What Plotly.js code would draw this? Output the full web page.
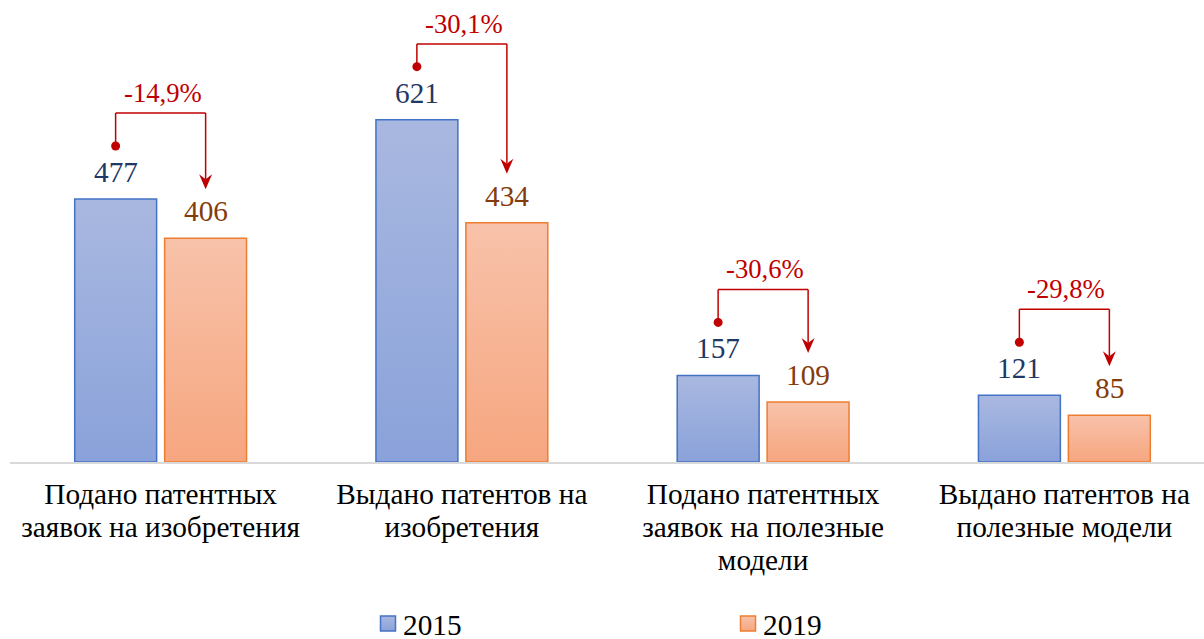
<!DOCTYPE html>
<html>
<head>
<meta charset="utf-8">
<script src="https://cdn.plot.ly/plotly-3.0.1.min.js"></script>
<style>
  html, body { margin: 0; padding: 0; background: #fff; }
  #chart { width: 1204px; height: 639px; }
</style>
</head>
<body>
<div id="chart"></div>
<script>
// ---- data ----
var categories = [
  'Подано патентных<br>заявок на изобретения',
  'Выдано патентов на<br>изобретения',
  'Подано патентных<br>заявок на полезные<br>модели',
  'Выдано патентов на<br>полезные модели'
];
var seriesNames = ['2015', '2019'];
var values2015 = [477, 621, 157, 121];
var values2019 = [406, 434, 109, 85];
var changeLabels = ['-14,9%', '-30,1%', '-30,6%', '-29,8%'];

// ---- styling ----
var FONT = 'Liberation Serif';
var RED = '#C00000';
var W = 1204, H = 639;
var M = {l: 10, r: 0, t: 0, b: 177};
var Y_MAX = 838;
var plotH = H - M.t - M.b;
var k = plotH / Y_MAX;           // px per data unit (from the y scale)
var BAR_OFF = 45;                // px from group centre to bar centre

var traces = [
  {
    type: 'bar', name: seriesNames[0], x: categories, y: values2015,
    marker: {color: '#97ABDD', line: {color: '#4472C4', width: 1.5}},
    hoverinfo: 'none'
  },
  {
    type: 'bar', name: seriesNames[1], x: categories, y: values2019,
    marker: {color: '#F7B494', line: {color: '#ED7D31', width: 1.5}},
    hoverinfo: 'none'
  }
];

var annotations = [];
var shapes = [];
categories.forEach(function (c, i) {
  var v1 = values2015[i], v2 = values2019[i];
  annotations.push({
    x: c, y: v1, xref: 'x', yref: 'y', text: String(v1), showarrow: false,
    xshift: -BAR_OFF, yanchor: 'bottom', yshift: 9,
    font: {family: FONT, size: 29.3, color: '#1F3864'}
  });
  annotations.push({
    x: c, y: v2, xref: 'x', yref: 'y', text: String(v2), showarrow: false,
    xshift: BAR_OFF, yanchor: 'bottom', yshift: 9,
    font: {family: FONT, size: 29.3, color: '#843C0C'}
  });

  var dotOff = 53;
  var topPx = plotH - v1 * k;
  var bracket = Math.min(86, topPx - 44);
  var tipOff = 49;                       // above the 2019 bar
  var tipRel = (v2 - v1) * k + tipOff;   // relative to 2015 bar top

  var common = {xref: 'x', yref: 'y', xsizemode: 'pixel', ysizemode: 'pixel',
                xanchor: c, yanchor: v1, line: {color: RED, width: 1.5}};
  shapes.push(Object.assign({}, common, {type: 'line', x0: -BAR_OFF, x1: -BAR_OFF, y0: dotOff, y1: bracket}));
  shapes.push(Object.assign({}, common, {type: 'line', x0: -BAR_OFF, x1: BAR_OFF, y0: bracket, y1: bracket}));
  shapes.push(Object.assign({}, common, {type: 'line', x0: BAR_OFF, x1: BAR_OFF, y0: bracket, y1: tipRel + 10}));
  shapes.push(Object.assign({}, common, {
    type: 'circle', x0: -BAR_OFF - 4.5, x1: -BAR_OFF + 4.5, y0: dotOff - 4.5, y1: dotOff + 4.5,
    fillcolor: RED, line: {width: 0}
  }));
  shapes.push({
    type: 'path', xref: 'x', yref: 'y', xsizemode: 'pixel', ysizemode: 'pixel',
    xanchor: c, yanchor: v2,
    path: 'M' + BAR_OFF + ',' + tipOff + ' L' + (BAR_OFF - 6.5) + ',' + (tipOff + 15) +
          ' L' + BAR_OFF + ',' + (tipOff + 10) + ' L' + (BAR_OFF + 6.5) + ',' + (tipOff + 15) + ' Z',
    fillcolor: RED, line: {width: 0}
  });
  annotations.push({
    x: c, y: v1, xref: 'x', yref: 'y', text: changeLabels[i], showarrow: false,
    xshift: 2, yanchor: 'bottom', yshift: bracket + 3,
    font: {family: FONT, size: 26.7, color: RED}
  });
});

var layout = {
  width: W, height: H, autosize: false,
  margin: M,
  paper_bgcolor: '#fff', plot_bgcolor: '#fff',
  font: {family: FONT},
  barmode: 'group', bargap: 0.403, bargroupgap: 0.089,
  showlegend: true,
  legend: {
    orientation: 'h', xref: 'container', yref: 'container',
    x: 368 / W, xanchor: 'left', y: 1 - 624 / H, yanchor: 'middle',
    itemwidth: 30,
    entrywidth: 315, entrywidthmode: 'pixels',
    font: {family: FONT, size: 29.3, color: '#000'},
    bgcolor: 'rgba(0,0,0,0)'
  },
  xaxis: {
    type: 'category', range: [-0.5, 3.4635],
    showline: true, linecolor: '#D9D9D9', linewidth: 2,
    ticks: '', showgrid: false, zeroline: false, fixedrange: true,
    tickfont: {family: FONT, size: 29.3, color: '#000'},
    ticklabelstandoff: 5
  },
  yaxis: {range: [0, Y_MAX], visible: false, fixedrange: true},
  annotations: annotations,
  shapes: shapes
};

var gd = document.getElementById('chart');
Plotly.newPlot(gd, traces, layout, {displayModeBar: false, staticPlot: true}).then(function () {
  var svg = gd.querySelector('svg.main-svg');
  var defs = svg.querySelector('defs');
  var NS = 'http://www.w3.org/2000/svg';
  function grad(id, top, bottom) {
    var g = document.createElementNS(NS, 'linearGradient');
    g.setAttribute('id', id);
    g.setAttribute('x1', '0'); g.setAttribute('y1', '0');
    g.setAttribute('x2', '0'); g.setAttribute('y2', '1');
    [[0, top], [1, bottom]].forEach(function (s) {
      var st = document.createElementNS(NS, 'stop');
      st.setAttribute('offset', s[0]);
      st.setAttribute('stop-color', s[1]);
      g.appendChild(st);
    });
    defs.appendChild(g);
  }
  grad('gBlue', '#A9B8E0', '#8AA2DA');
  grad('gOrange', '#F8C2AA', '#F6A67F');
  var ids = ['gBlue', 'gOrange'];
  gd.querySelectorAll('.barlayer .trace').forEach(function (tg, i) {
    tg.querySelectorAll('path').forEach(function (p) { p.style.fill = 'url(#' + ids[i] + ')'; });
  });
  gd.querySelectorAll('.legend .traces .legendpoints path').forEach(function (p, i) {
    p.setAttribute('d', 'M7.5,7.5H-7.5V-7.5H7.5Z');
    p.style.fill = 'url(#' + ids[i] + ')';
  });
  // bring legend text a little closer to its symbol
  gd.querySelectorAll('.legend .legendtext').forEach(function (t) {
    var x = parseFloat(t.getAttribute('x')) || 0;
    t.setAttribute('x', x - 5);
    t.querySelectorAll('tspan').forEach(function (s) {
      if (s.getAttribute('x') !== null) s.setAttribute('x', (parseFloat(s.getAttribute('x')) || 0) - 5);
    });
  });
  // tighter line spacing for category labels (Excel-like 1.13em)
  gd.querySelectorAll('.xtick text tspan.line').forEach(function (t) {
    var dy = parseFloat(t.getAttribute('dy'));
    if (dy) {
      var n = Math.round(dy / 1.3);
      t.setAttribute('dy', (n * 1.13) + 'em');
    }
  });
});
</script>
</body>
</html>
